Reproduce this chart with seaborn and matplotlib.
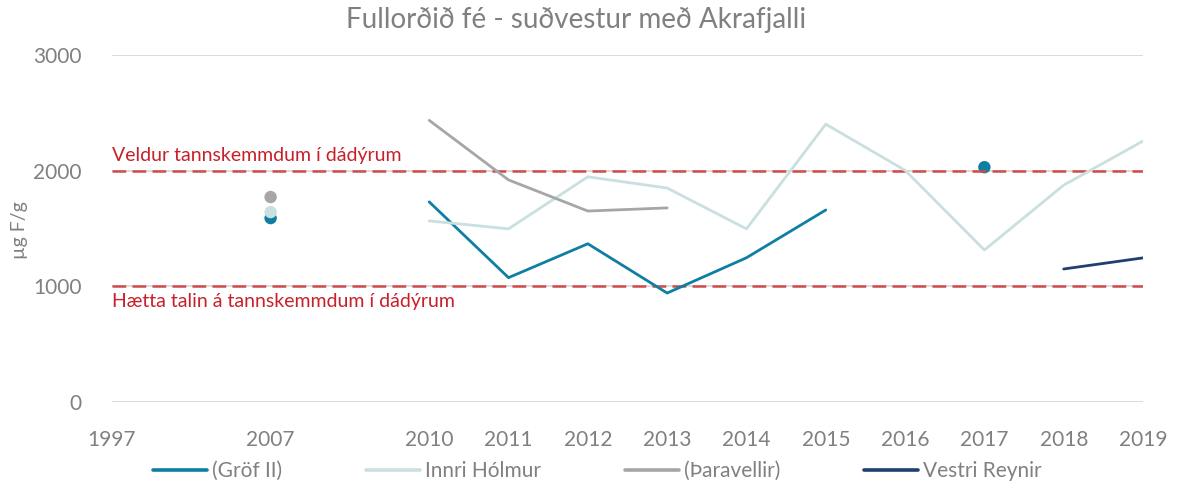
import numpy as np
import pandas as pd
import matplotlib
matplotlib.use("Agg")
import matplotlib.pyplot as plt
import seaborn as sns

# Category axis: year labels (two unlabeled slots between 1997/2007/2010)
years = ["1997", "", "2007", "", "2010", "2011", "2012", "2013",
         "2014", "2015", "2016", "2017", "2018", "2019"]

grof = [None, None, 1590, None, 1730, 1075, 1368, 942, 1247, 1660, None, 2030, None, None]
innri = [None, None, 1642, None, 1566, 1497, 1947, 1850, 1497, 2402, 2003, 1314, 1875, 2256]
thara = [None, None, 1772, None, 2435, 1920, 1651, 1678, None, None, None, None, None, None]
vestri = [None, None, None, None, None, None, None, None, None, None, None, None, 1150, 1246]

series_names = ["(Gröf II)", "Innri Hólmur", "(Þaravellir)", "Vestri Reynir"]
series_values = [grof, innri, thara, vestri]
series_colors = ["#0E7FA2", "#C9DFE0", "#A6A6A8", "#1F3E72"]

threshold_high = 2000
threshold_low = 1000
label_high = "Veldur tannskemmdum í dádýrum"
label_low = "Hætta talin á tannskemmdum í dádýrum"
title = "Fullorðið fé - suðvestur með Akrafjalli"
ylabel = "µg F/g"

sns.set_theme(style="white")
plt.rcParams["font.family"] = ["Lato", "DejaVu Sans"]

text_gray = "#808080"
red_line = "#CF4A4A"
red_text = "#C8202A"
grid_gray = "#D9D9D9"

fig = plt.figure(figsize=(11.86, 4.86), dpi=100)
ax = fig.add_axes([112 / 1186, 1 - 402 / 486, (1143 - 112) / 1186, (402 - 55) / 486])

# Split each series into runs of consecutive values: lines for runs, dots for singles
rows = []
dots = []
for name, vals in zip(series_names, series_values):
    seg = 0
    run = []
    for i, v in enumerate(vals + [None]):
        if v is not None:
            run.append((i, v))
        else:
            if len(run) > 1:
                for x, y in run:
                    rows.append({"series": name, "seg": f"{name}-{seg}", "x": x, "y": y})
            elif len(run) == 1:
                dots.append({"series": name, "x": run[0][0], "y": run[0][1]})
            if run:
                seg += 1
            run = []
lines_df = pd.DataFrame(rows)
dots_df = pd.DataFrame(dots)
palette = dict(zip(series_names, series_colors))

# Gridlines
for yv in [0, 1000, 2000, 3000]:
    ax.axhline(yv, color=grid_gray, lw=1.3, zorder=0)

# Threshold lines
ax.axhline(threshold_high, color=red_line, lw=1.8, ls=(0, (5.5, 2.5)), zorder=3)
ax.axhline(threshold_low, color=red_line, lw=1.8, ls=(0, (5.5, 2.5)), zorder=3)

for name in series_names:
    sub = lines_df[lines_df["series"] == name]
    if len(sub):
        sns.lineplot(data=sub, x="x", y="y", units="seg", estimator=None,
                     color=palette[name], lw=2.0, ax=ax, zorder=4, legend=False)
    dsub = dots_df[dots_df["series"] == name] if len(dots_df) else dots_df
    if len(dsub):
        sns.scatterplot(data=dsub, x="x", y="y", color=palette[name], s=80,
                        edgecolor="none", ax=ax, zorder=2, legend=False)

ax.text(0, threshold_high + 60, label_high, color=red_text, fontsize=14,
        ha="left", va="bottom")
ax.text(0, threshold_low - 60, label_low, color=red_text, fontsize=14,
        ha="left", va="top")

ax.set_xlim(0, len(years) - 1)
ax.set_ylim(0, 3000)
ax.set_xticks(range(len(years)))
ax.set_xticklabels(years)
ax.set_yticks([0, 1000, 2000, 3000])
ax.set_yticklabels(["0", "1000", "2000", "3000"])
ax.tick_params(axis="x", length=0, pad=20, labelsize=15, labelcolor=text_gray)
ax.tick_params(axis="y", length=0, pad=22, labelsize=15, labelcolor=text_gray)
for s in ax.spines.values():
    s.set_visible(False)
ax.set_xlabel("")
ax.set_ylabel("")
ax.grid(False)

fig.text(20 / 1186, 1 - 230 / 486, ylabel, rotation=90, color=text_gray,
         fontsize=14, ha="center", va="center")
fig.text(576 / 1186, 1 - 20 / 486, title, color=text_gray, fontsize=20,
         ha="center", va="center")

handles = [plt.Line2D([], [], color=c, lw=2.6) for c in series_colors]
fig.legend(handles, series_names, loc="center left",
           bbox_to_anchor=(153 / 1186, 1 - 471 / 486), ncol=4, frameon=False,
           fontsize=15, handlelength=2.6, handletextpad=0.25, columnspacing=4.0,
           labelcolor=text_gray, borderpad=0, borderaxespad=0)

fig.savefig("out.png", dpi=100)
